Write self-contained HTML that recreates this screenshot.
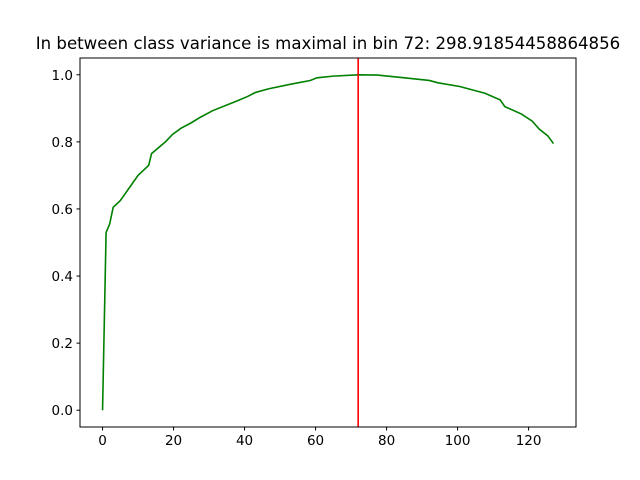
<!DOCTYPE html>
<html><head><meta charset="utf-8"><style>body{margin:0;background:#fff}svg{display:block;font-family:"DejaVu Sans","Liberation Sans",sans-serif}</style></head>
<body>
<svg id="chart" width="640" height="480">
<text x="328" y="49" font-size="16.6" text-anchor="middle">In between class variance is maximal in bin 72: 298.91854458864856</text>
<g id="plot"></g>
<rect x="80" y="58" width="496" height="369" fill="none" stroke="#000" stroke-width="1"/>
</svg>
<script>
const xs=[0,1,2,3,5,6,7,10,13,13.8,17.7,19.7,22,25,27.5,31,37.4,40.8,43,46.7,53,58.5,60.4,65,72,77.6,84,92,94.5,100.6,107.7,112,113.3,118,121,123,125.4,127];
const ys=[0,0.53,0.555,0.605,0.625,0.64,0.655,0.70,0.73,0.765,0.80,0.822,0.84,0.857,0.873,0.893,0.92,0.935,0.947,0.958,0.972,0.983,0.991,0.996,1.0,0.999,0.992,0.983,0.976,0.965,0.945,0.925,0.905,0.883,0.862,0.838,0.818,0.795];
const peakBin=72;
const xTicks=[0,20,40,60,80,100,120];
const yTicks=[0.0,0.2,0.4,0.6,0.8,1.0];
const L=80,R=576,T=58,B=427;
const xmin=-6.35,xmax=133.35,ymin=-0.05,ymax=1.05;
const X=v=>L+(v-xmin)/(xmax-xmin)*(R-L);
const Y=v=>B-(v-ymin)/(ymax-ymin)*(B-T);
const g=document.getElementById('plot');
const NS='http://www.w3.org/2000/svg';
function mk(t,a){const e=document.createElementNS(NS,t);for(const k in a)e.setAttribute(k,a[k]);g.appendChild(e);return e;}
xTicks.forEach(v=>{
 const l=mk('line',{x1:X(v),x2:X(v),y1:B,y2:B+3.5,stroke:'#000'});
 
 
 const t=mk('text',{x:X(v),y:B+18,'font-size':'13.5','text-anchor':'middle'});t.textContent=v;
 
 
});
yTicks.forEach(v=>{
 const l=mk('line',{x1:L-3.5,x2:L,y1:Y(v),y2:Y(v),stroke:'#000'});
 
 
 const t=mk('text',{x:L-7,y:Y(v)+5,'font-size':'13.5','text-anchor':'end'});t.textContent=v.toFixed(1);
 
 
});
const p=mk('polyline',{points:xs.map((x,i)=>X(x)+','+Y(ys[i])).join(' '),fill:'none',stroke:'#008000','stroke-width':'1.6'});


const v=mk('line',{x1:X(peakBin),x2:X(peakBin),y1:T,y2:B,stroke:'#ff0000','stroke-width':'1.6'});


</script>
</body></html>
